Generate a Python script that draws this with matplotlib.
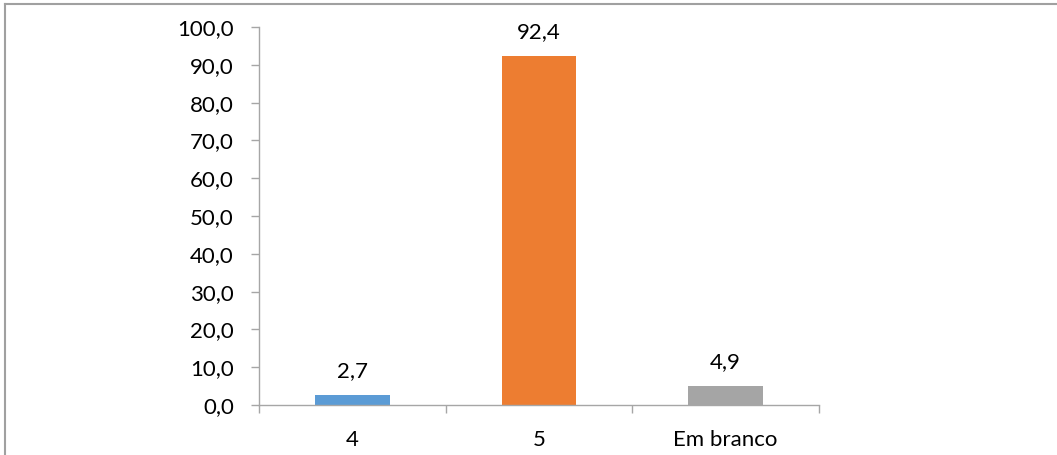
import matplotlib
matplotlib.use("Agg")
import matplotlib.pyplot as plt
from matplotlib.lines import Line2D

categories = ["4", "5", "Em branco"]
values = [2.7, 92.4, 4.9]
colors = ["#5B9BD5", "#ED7D31", "#A5A5A5"]
yticks = [0, 10, 20, 30, 40, 50, 60, 70, 80, 90, 100]

plt.rcParams['font.family'] = ['Lato', 'DejaVu Sans']
FS = 16
fig = plt.figure(figsize=(10.57, 4.55), dpi=100)
ax = fig.add_axes([259/1057, 50/455, 560/1057, 378/455])

x = list(range(len(categories)))
bars = ax.bar(x, values, width=0.4, color=colors, zorder=2)
for xi, v in zip(x, values):
    ax.annotate(f"{v:.1f}".replace(".", ","), (xi, v), xytext=(0, 10),
                textcoords="offset points", ha="center", va="bottom", fontsize=FS)

ax.set_xlim(-0.5, len(categories) - 0.5)
ax.set_ylim(0, 100)
ax.set_yticks(yticks)
ax.set_yticklabels([f"{t:.1f}".replace(".", ",") for t in yticks], fontsize=FS)
ax.set_xticks(x)
ax.set_xticklabels(categories, fontsize=FS)
ax.tick_params(axis='x', length=0, pad=18)
ax.set_xticks([-0.5 + i for i in range(len(categories) + 1)], minor=True)
ax.tick_params(axis='x', which='minor', length=6, color='#A6A6A6', width=1)
ax.tick_params(axis='y', length=6, color='#A6A6A6', width=1, pad=12)

for s in ['top', 'right']:
    ax.spines[s].set_visible(False)
for s in ['left', 'bottom']:
    ax.spines[s].set_color('#A6A6A6')
    ax.spines[s].set_linewidth(1)

# figure border (top and left visible)
fig.add_artist(Line2D([5/1057, 1.0], [1 - 4/455, 1 - 4/455], transform=fig.transFigure,
                      color='#A0A0A0', linewidth=1.5))
fig.add_artist(Line2D([5/1057, 5/1057], [0, 1 - 4/455], transform=fig.transFigure,
                      color='#A0A0A0', linewidth=1.5))

fig.savefig("out.png", dpi=100)
